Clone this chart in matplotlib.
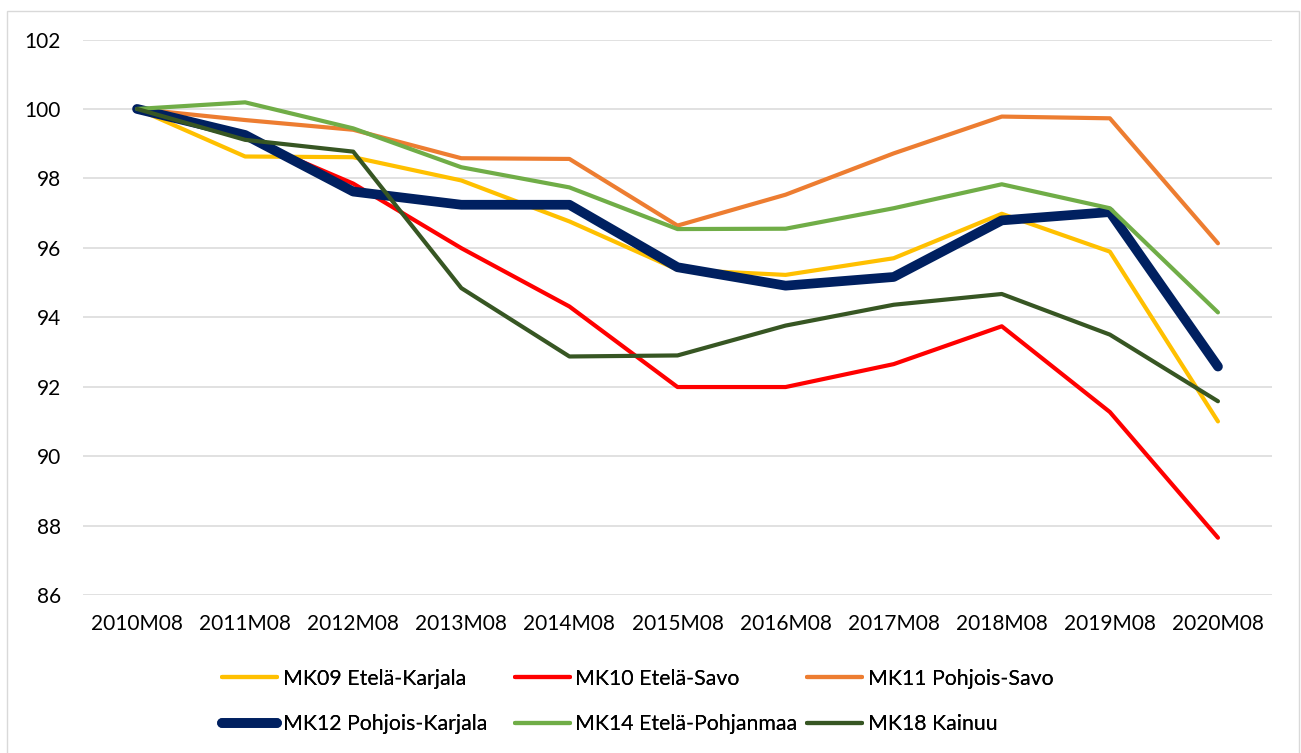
import matplotlib
matplotlib.use("Agg")
import matplotlib.pyplot as plt
from matplotlib.patches import Rectangle

categories = ["2010M08", "2011M08", "2012M08", "2013M08", "2014M08", "2015M08",
              "2016M08", "2017M08", "2018M08", "2019M08", "2020M08"]

mk09 = [100, 98.63, 98.61, 97.94, 96.76, 95.37, 95.22, 95.70, 96.98, 95.89, 91.00]
mk10 = [100, 99.18, 97.85, 95.99, 94.31, 91.99, 91.99, 92.65, 93.74, 91.27, 87.65]
mk11 = [100, 99.68, 99.40, 98.58, 98.56, 96.64, 97.53, 98.72, 99.78, 99.73, 96.13]
mk12 = [100, 99.25, 97.62, 97.24, 97.24, 95.44, 94.91, 95.16, 96.79, 97.03, 92.58]
mk14 = [100, 100.19, 99.44, 98.32, 97.74, 96.54, 96.55, 97.14, 97.83, 97.14, 94.14]
mk18 = [100, 99.11, 98.77, 94.84, 92.87, 92.90, 93.76, 94.36, 94.67, 93.50, 91.58]

series_names = ["MK09 Etelä-Karjala", "MK10 Etelä-Savo", "MK11 Pohjois-Savo",
                "MK12 Pohjois-Karjala", "MK14 Etelä-Pohjanmaa", "MK18 Kainuu"]
series_values = [mk09, mk10, mk11, mk12, mk14, mk18]
series_colors = ["#FFC000", "#FF0000", "#ED7D31", "#002060", "#70AD47", "#375623"]
series_widths = [3.0, 3.0, 3.0, 7.0, 3.0, 3.0]

yticks = [86, 88, 90, 92, 94, 96, 98, 100, 102]

plt.rcParams['font.family'] = ['Lato', 'DejaVu Sans']

W, H = 1301, 753
fig = plt.figure(figsize=(W / 100, H / 100), dpi=100)
ax = fig.add_axes([83 / W, 1 - 595 / H, (1272 - 83) / W, (595 - 39.5) / H])

x = list(range(len(categories)))
lines = []
for name, vals, col, lw in zip(series_names, series_values, series_colors, series_widths):
    ln, = ax.plot(x, vals, color=col, linewidth=lw, label=name,
                  solid_capstyle='round', solid_joinstyle='round')
    lines.append(ln)

ax.set_xlim(-0.5, len(categories) - 0.5)
ax.set_ylim(86, 102)
ax.set_yticks(yticks)
ax.set_yticklabels([str(v) for v in yticks])
ax.set_xticks(x)
ax.set_xticklabels(categories)
ax.grid(axis='y', color='#D9D9D9', linewidth=1.1)
ax.set_axisbelow(True)
for s in ax.spines.values():
    s.set_visible(False)
ax.tick_params(axis='both', length=0, labelsize=15, colors='#000000')
ax.tick_params(axis='y', pad=16)
ax.tick_params(axis='x', pad=14)

# legends: three columns, fixed positions
col_x = [222, 514.5, 807]
y_center = 1 - 701.5 / H
for ci in range(3):
    hs = [lines[ci], lines[ci + 3]]
    lg = fig.legend(hs, [h.get_label() for h in hs], loc='center left',
                    bbox_to_anchor=(col_x[ci] / W, y_center), frameon=False,
                    fontsize=15.3, handlelength=2.6, handletextpad=0.25,
                    labelspacing=1.2, borderpad=0, borderaxespad=0)
    fig.add_artist(lg)

# chart border
fig.patches.append(Rectangle((7 / W, -0.01), (1299 - 7) / W, 1.01 - 10.5 / H,
                             transform=fig.transFigure, fill=False,
                             edgecolor='#D9D9D9', linewidth=1.0))

fig.savefig("out.png", dpi=100)
